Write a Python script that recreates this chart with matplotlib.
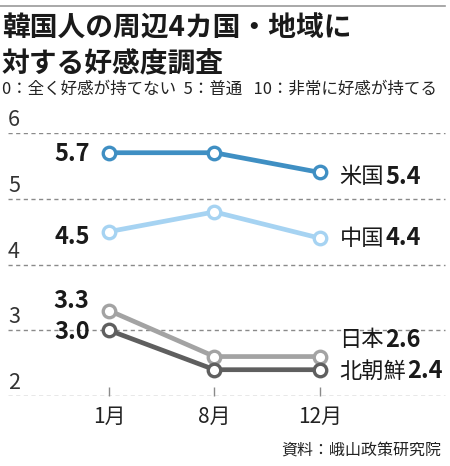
import matplotlib
matplotlib.use("Agg")
import matplotlib.pyplot as plt

plt.rcParams['font.family'] = ['Noto Sans CJK JP', 'DejaVu Sans']

# データ
months = ["1月", "8月", "12月"]
countries = ["米国", "中国", "日本", "北朝鮮"]
usa = [5.7, 5.7, 5.4]
china = [4.5, 4.8, 4.4]
japan = [3.3, 2.6, 2.6]
nkorea = [3.0, 2.4, 2.4]
yticks = [2, 3, 4, 5, 6]

series = [usa, china, japan, nkorea]
colors = ["#3f8fc3", "#a6d3f2", "#a3a3a3", "#5f5f5f"]
# ラベルの上下ずらし(pt)
left_off = [-1, -4, 7, -1]
right_off = [-3, 0, 12, -1]

W, H = 450, 466
fig = plt.figure(figsize=(W / 100, H / 100), dpi=100)

# 上の罫線
fig.add_artist(plt.Line2D([0, 445 / W], [1 - 6 / H, 1 - 6 / H], color="#9a9a9a", lw=1.2))

# タイトル
fig.text(2 / W, 1 - 29 / H, "韓国人の周辺4カ国・地域に", fontsize=20, fontweight="bold",
         va="center", ha="left", color="#1a1a1a")
fig.text(2 / W, 1 - 63 / H, "対する好感度調査", fontsize=20, fontweight="bold",
         va="center", ha="left", color="#1a1a1a")
fig.text(2 / W, 1 - 89 / H, "0：全く好感が持てない  5：普通   10：非常に好感が持てる",
         fontsize=11.9, va="center", ha="left", color="#222222")

# グラフ領域
x0, px_unit = 109, 105.5
ax = fig.add_axes([0, (H - 396) / H, 1, (396 - 133) / H])
ax.set_xlim(-x0 / px_unit, (W - x0) / px_unit)
ax.set_ylim(2, 6)
for s in ax.spines.values():
    s.set_visible(False)

for y in yticks:
    ax.axhline(y, xmin=8 / W, xmax=445 / W, color="#8a8a8a", lw=1, ls=(0, (3, 2.5)), zorder=1)
    ax.annotate(str(y), xy=(8 / W, y), xycoords=("axes fraction", "data"),
                xytext=(0, 5), textcoords="offset points", ha="left", va="baseline",
                fontsize=15.5, color="#333333")

xs = list(range(len(months)))
ax.set_xticks(xs)
ax.set_xticklabels(months, fontsize=15, color="#222222")
ax.tick_params(axis="x", direction="in", length=6.5, width=1, color="#8a8a8a", pad=7)
ax.set_yticks([])

for i, vals in enumerate(series):
    ax.plot(xs, vals, color=colors[i], lw=3.4, zorder=3, solid_capstyle="round",
            marker="o", ms=9, mfc="white", mec=colors[i], mew=2.4)
    # 左の数値
    ax.annotate(f"{vals[0]:.1f}", xy=(xs[0], vals[0]), xytext=(-14, left_off[i]),
                textcoords="offset points", ha="right", va="center",
                fontsize=17, fontweight="bold", color="#1a1a1a")
    # 右の国名と数値
    name = ax.annotate(countries[i], xy=(xs[-1], vals[-1]), xytext=(14, right_off[i]),
                       textcoords="offset points", ha="left", va="center",
                       fontsize=16, color="#1a1a1a")
    ax.annotate(f"{vals[-1]:.1f}", xy=(1, 0.5), xycoords=name, xytext=(1, 0),
                textcoords="offset points", ha="left", va="center",
                fontsize=17, fontweight="bold", color="#1a1a1a")

# 出典
fig.text(441 / W, 1 - 450 / H, "資料：峨山政策研究院", fontsize=11.5, ha="right", va="center",
         color="#222222")

fig.savefig("out.png", dpi=100, facecolor="white")
